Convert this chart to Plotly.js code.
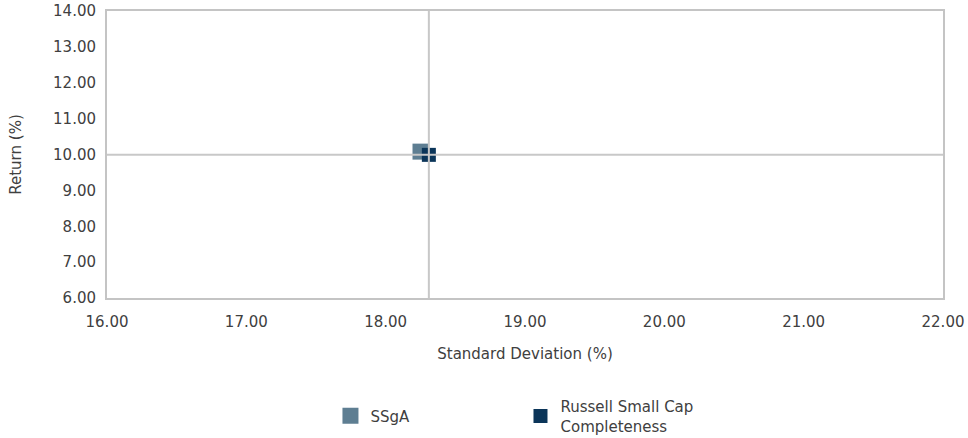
<!DOCTYPE html>
<html>
<head>
<meta charset="utf-8">
<script src="https://cdn.plot.ly/plotly-3.0.1.min.js"></script>
<style>html,body{margin:0;padding:0;background:#fff;}#chart{width:968px;height:438px;}</style>
</head>
<body>
<div id="chart"></div>
<script>
const seriesNames = ["SSgA", "Russell Small Cap<br>Completeness"];
const stdDev = [18.25, 18.31];
const returns = [10.08, 9.99];
const colors = ["#5E7E92", "#0B3559"];
const markerSizes = [16, 14];
const xTicks = [16, 17, 18, 19, 20, 21, 22];
const yTicks = [6, 7, 8, 9, 10, 11, 12, 13, 14];

const fontFamily = "DejaVu Sans, sans-serif";
const textColor = "#404040";
const legendIds = ["legend", "legend2"];

const traces = seriesNames.map((name, i) => ({
  type: "scatter",
  mode: "markers",
  name: name,
  legend: legendIds[i],
  x: [stdDev[i]],
  y: [returns[i]],
  marker: {symbol: "square", size: markerSizes[i], color: colors[i]},
  hoverinfo: "none"
}));

const bx = stdDev[1], by = returns[1];
const legendBase = {orientation: "h", yanchor: "middle", y: -0.411, xanchor: "left",
  font: {size: 15, color: textColor}, valign: "middle", bgcolor: "rgba(0,0,0,0)"};
const layout = {
  width: 968, height: 438,
  margin: {l: 107, r: 25, t: 11, b: 140, autoexpand: false},
  paper_bgcolor: "#fff", plot_bgcolor: "#fff",
  font: {family: fontFamily, size: 15, color: textColor},
  showlegend: true,
  legend: Object.assign({}, legendBase, {x: 0.2673}),
  legend2: Object.assign({}, legendBase, {x: 0.4946}),
  xaxis: {
    range: [xTicks[0], xTicks[xTicks.length - 1]],
    tickvals: xTicks, ticktext: xTicks.map(v => v.toFixed(2)),
    showgrid: false, zeroline: false,
    showline: true, mirror: true, linecolor: "#C4C4C4", linewidth: 2,
    ticks: "", ticklabelstandoff: 9,
    title: {text: "Standard Deviation (%)", standoff: 18, font: {size: 15, color: textColor}}
  },
  yaxis: {
    range: [yTicks[0], yTicks[yTicks.length - 1]],
    tickvals: yTicks, ticktext: yTicks.map(v => v.toFixed(2)),
    showgrid: false, zeroline: false,
    showline: true, mirror: true, linecolor: "#C4C4C4", linewidth: 2,
    ticks: "", ticklabelstandoff: 6,
    title: {text: "Return (%)", standoff: 28, font: {size: 15, color: textColor}}
  },
  shapes: [
    {type: "line", xref: "x", yref: "paper", x0: bx, x1: bx, y0: 0, y1: 1, layer: "above", line: {color: "#C8C8C8", width: 2}},
    {type: "line", xref: "paper", yref: "y", x0: 0, x1: 1, y0: by, y1: by, layer: "above", line: {color: "#C8C8C8", width: 2}}
  ]
};

Plotly.newPlot("chart", traces, layout, {displayModeBar: false, staticPlot: true});
</script>
</body>
</html>
